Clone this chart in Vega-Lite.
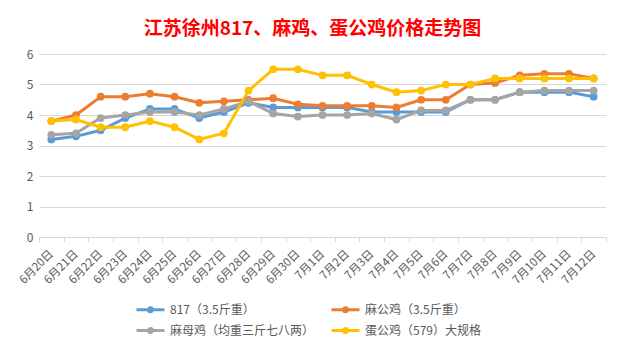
{
  "$schema": "https://vega.github.io/schema/vega-lite/v6.json",
  "width": 567,
  "height": 183,
  "autosize": "none",
  "padding": {"left": 39, "top": 54, "right": 18, "bottom": 114},
  "background": "white",
  "title": {
    "text": "江苏徐州817、麻鸡、蛋公鸡价格走势图",
    "color": "#FF0000",
    "fontSize": 19,
    "font": "Noto Sans CJK SC",
    "fontWeight": "bold",
    "anchor": "middle",
    "dx": -10,
    "offset": 9
  },
  "data": {
    "values": [
      {"d": "6月20日", "A": 3.2, "B": 3.8, "C": 3.35, "D": 3.8},
      {"d": "6月21日", "A": 3.3, "B": 4.0, "C": 3.4, "D": 3.85},
      {"d": "6月22日", "A": 3.5, "B": 4.6, "C": 3.9, "D": 3.6},
      {"d": "6月23日", "A": 3.9, "B": 4.6, "C": 4.0, "D": 3.6},
      {"d": "6月24日", "A": 4.2, "B": 4.7, "C": 4.1, "D": 3.8},
      {"d": "6月25日", "A": 4.2, "B": 4.6, "C": 4.1, "D": 3.6},
      {"d": "6月26日", "A": 3.9, "B": 4.4, "C": 4.0, "D": 3.2},
      {"d": "6月27日", "A": 4.1, "B": 4.45, "C": 4.2, "D": 3.4},
      {"d": "6月28日", "A": 4.4, "B": 4.5, "C": 4.45, "D": 4.8},
      {"d": "6月29日", "A": 4.25, "B": 4.55, "C": 4.05, "D": 5.5},
      {"d": "6月30日", "A": 4.25, "B": 4.35, "C": 3.95, "D": 5.5},
      {"d": "7月1日", "A": 4.25, "B": 4.3, "C": 4.0, "D": 5.3},
      {"d": "7月2日", "A": 4.25, "B": 4.3, "C": 4.0, "D": 5.3},
      {"d": "7月3日", "A": 4.1, "B": 4.3, "C": 4.05, "D": 5.0},
      {"d": "7月4日", "A": 4.1, "B": 4.25, "C": 3.85, "D": 4.75},
      {"d": "7月5日", "A": 4.1, "B": 4.5, "C": 4.15, "D": 4.8},
      {"d": "7月6日", "A": 4.1, "B": 4.5, "C": 4.15, "D": 5.0},
      {"d": "7月7日", "A": 4.5, "B": 5.0, "C": 4.5, "D": 5.0},
      {"d": "7月8日", "A": 4.5, "B": 5.05, "C": 4.5, "D": 5.2},
      {"d": "7月9日", "A": 4.75, "B": 5.3, "C": 4.75, "D": 5.2},
      {"d": "7月10日", "A": 4.75, "B": 5.35, "C": 4.8, "D": 5.2},
      {"d": "7月11日", "A": 4.75, "B": 5.35, "C": 4.8, "D": 5.2},
      {"d": "7月12日", "A": 4.6, "B": 5.2, "C": 4.8, "D": 5.2}
    ]
  },
  "transform": [
    {"fold": ["A", "B", "C", "D"], "as": ["series", "value"]}
  ],
  "mark": {"type": "line", "strokeWidth": 3, "point": {"filled": true, "size": 60}},
  "encoding": {
    "x": {
      "field": "d",
      "type": "nominal",
      "sort": null,
      "bandPosition": 0.5,
      "scale": {"type": "band", "paddingInner": 0, "paddingOuter": 0},
      "axis": {
        "title": null,
        "labelAngle": -45,
        "labelAlign": "right",
        "labelBaseline": "middle",
        "labelFontSize": 11.5,
        "labelColor": "#595959",
        "labelFont": "Noto Sans CJK SC",
        "domainColor": "#d9d9d9",
        "tickColor": "#d9d9d9",
        "tickBand": "extent",
        "tickSize": 5,
        "labelPadding": 10,
        "labelOverlap": false,
        "grid": false
      }
    },
    "y": {
      "field": "value",
      "type": "quantitative",
      "scale": {"domain": [0, 6]},
      "axis": {
        "title": null,
        "values": [0, 1, 2, 3, 4, 5, 6],
        "domain": false,
        "ticks": false,
        "gridColor": "#d9d9d9",
        "labelColor": "#595959",
        "labelFontSize": 12,
        "labelFont": "Noto Sans CJK SC",
        "labelPadding": 6
      }
    },
    "color": {
      "field": "series",
      "type": "nominal",
      "scale": {
        "domain": ["A", "B", "C", "D"],
        "range": ["#5B9BD5", "#ED7D31", "#A5A5A5", "#FFC000"]
      },
      "legend": {
        "title": null,
        "orient": "none",
        "direction": "horizontal",
        "legendX": 96,
        "legendY": 247,
        "columns": 2,
        "columnPadding": 10,
        "rowPadding": 4,
        "labelFontSize": 12,
        "labelFont": "Noto Sans CJK SC",
        "labelColor": "#595959",
        "labelExpr": "datum.value == 'A' ? '817（3.5斤重）' : datum.value == 'B' ? '麻公鸡（3.5斤重）' : datum.value == 'C' ? '麻母鸡（均重三斤七八两）' : '蛋公鸡（579）大规格'",
        "symbolType": "M -1 0 L 3 0 M 1.29 0 A 0.29 0.29 0 1 1 0.71 0 A 0.29 0.29 0 1 1 1.29 0",
        "symbolSize": 196,
        "symbolStrokeWidth": 3,
        "labelOffset": 18
      }
    }
  },
  "config": {"view": {"stroke": null}}
}
